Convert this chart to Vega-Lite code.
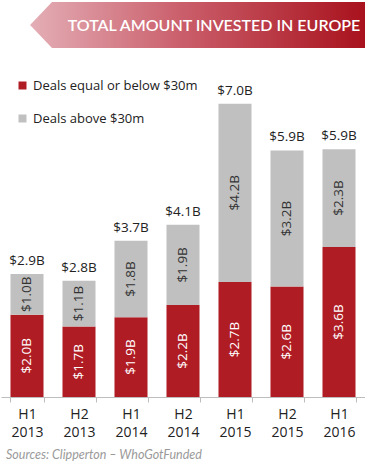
{
  "$schema": "https://vega.github.io/schema/vega-lite/v6.json",
  "width": 364,
  "height": 397,
  "autosize": "none",
  "padding": {"left": 1, "top": 0, "right": 0, "bottom": 72},
  "background": "white",
  "config": {"view": {"stroke": null}, "font": "Open Sans"},
  "title": {
    "text": "Sources: Clipperton – WhoGotFunded",
    "orient": "bottom", "anchor": "start", "frame": "bounds",
    "font": "Lato", "fontStyle": "italic", "fontWeight": "normal",
    "fontSize": 12.5, "color": "#9a9a9a", "offset": 10, "dx": 5
  },
  "datasets": {
    "deals": [
      {"period": "H1 2013", "category": "Deals equal or below $30m", "value": 1.96},
      {"period": "H1 2013", "category": "Deals above $30m", "value": 0.97},
      {"period": "H2 2013", "category": "Deals equal or below $30m", "value": 1.68},
      {"period": "H2 2013", "category": "Deals above $30m", "value": 1.09},
      {"period": "H1 2014", "category": "Deals equal or below $30m", "value": 1.90},
      {"period": "H1 2014", "category": "Deals above $30m", "value": 1.82},
      {"period": "H2 2014", "category": "Deals equal or below $30m", "value": 2.19},
      {"period": "H2 2014", "category": "Deals above $30m", "value": 1.91},
      {"period": "H1 2015", "category": "Deals equal or below $30m", "value": 2.74},
      {"period": "H1 2015", "category": "Deals above $30m", "value": 4.24},
      {"period": "H2 2015", "category": "Deals equal or below $30m", "value": 2.63},
      {"period": "H2 2015", "category": "Deals above $30m", "value": 3.24},
      {"period": "H1 2016", "category": "Deals equal or below $30m", "value": 3.57},
      {"period": "H1 2016", "category": "Deals above $30m", "value": 2.33}
    ]
  },
  "resolve": {"scale": {"x": "independent", "y": "independent"}},
  "layer": [
    {
      "data": {"values": [{"title": "TOTAL AMOUNT INVESTED IN EUROPE"}]},
      "layer": [
        {
          "mark": {
            "type": "point",
            "shape": "M-1,0L-0.869,-0.1373L1,-0.1373L1,0.1373L-0.869,0.1373Z",
            "size": 112225,
            "filled": true,
            "opacity": 1,
            "strokeWidth": 0,
            "fill": {
              "gradient": "linear", "x1": 0, "x2": 1, "y1": 0, "y2": 0,
              "stops": [
                {"offset": 0, "color": "#e4aeb6"},
                {"offset": 0.45, "color": "#ca5f6b"},
                {"offset": 1, "color": "#a8121d"}
              ]
            }
          },
          "encoding": {
            "x": {"datum": 0.54, "type": "quantitative", "scale": {"domain": [0, 1]}, "axis": null},
            "y": {"datum": 0.937, "type": "quantitative", "scale": {"domain": [0, 1]}, "axis": null}
          }
        },
        {
          "mark": {"type": "text", "font": "Lato", "fontSize": 16, "fontWeight": 600, "color": "white", "align": "center", "baseline": "middle"},
          "encoding": {
            "text": {"field": "title"},
            "x": {"datum": 0.585, "type": "quantitative", "scale": {"domain": [0, 1]}, "axis": null},
            "y": {"datum": 0.934, "type": "quantitative", "scale": {"domain": [0, 1]}, "axis": null}
          }
        }
      ]
    },
    {
      "data": {"name": "deals"},
      "encoding": {
        "x": {
          "field": "period", "type": "nominal", "sort": null,
          "scale": {"paddingInner": 0.365, "paddingOuter": 0.1825},
          "axis": {
            "title": null, "labelAngle": 0, "labelExpr": "split(datum.label, ' ')",
            "labelFont": "Open Sans", "labelFontSize": 14, "labelLineHeight": 18, "labelColor": "#222",
            "tickBand": "extent", "tickSize": 5, "tickColor": "#bdbdbd", "domainColor": "#bdbdbd",
            "labelPadding": 5
          }
        }
      },
      "layer": [
        {
          "transform": [
            {"stack": "value", "groupby": ["period"], "sort": [{"field": "category", "order": "descending"}], "as": ["v0", "v1"]},
            {"calculate": "(datum.v0 + datum.v1) / 2", "as": "mid"},
            {"calculate": "'$' + format(datum.value, '.1f') + 'B'", "as": "segLabel"}
          ],
          "layer": [
            {
              "mark": {"type": "bar"},
              "encoding": {
                "y": {"field": "v0", "type": "quantitative", "scale": {"domain": [0, 9.45], "nice": false}, "axis": null},
                "y2": {"field": "v1"},
                "color": {
                  "field": "category", "type": "nominal",
                  "scale": {"domain": ["Deals equal or below $30m", "Deals above $30m"], "range": ["#b01c24", "#c0c0c0"]},
                  "legend": {
                    "title": null, "orient": "none", "legendX": 15, "legendY": 79,
                    "symbolType": "square", "symbolSize": 64, "symbolStrokeWidth": 0,
                    "labelFont": "Open Sans", "labelFontSize": 13, "labelColor": "#222", "labelLimit": 0,
                    "labelOffset": 4, "rowPadding": 19, "padding": 0
                  }
                }
              }
            },
            {
              "mark": {"type": "text", "angle": 270, "align": "center", "baseline": "middle", "fontSize": 13.5, "font": "Open Sans"},
              "encoding": {
                "y": {"field": "mid", "type": "quantitative"},
                "text": {"field": "segLabel"},
                "color": {"condition": {"test": "datum.category == 'Deals above $30m'", "value": "#333333"}, "value": "white"}
              }
            }
          ]
        },
        {
          "transform": [
            {"aggregate": [{"op": "sum", "field": "value", "as": "total"}], "groupby": ["period"]},
            {"calculate": "'$' + format(datum.total, '.1f') + 'B'", "as": "totalLabel"}
          ],
          "mark": {"type": "text", "baseline": "alphabetic", "dy": -9, "fontSize": 13.5, "font": "Open Sans", "color": "#222"},
          "encoding": {
            "y": {"field": "total", "type": "quantitative"},
            "text": {"field": "totalLabel"}
          }
        }
      ]
    }
  ]
}
